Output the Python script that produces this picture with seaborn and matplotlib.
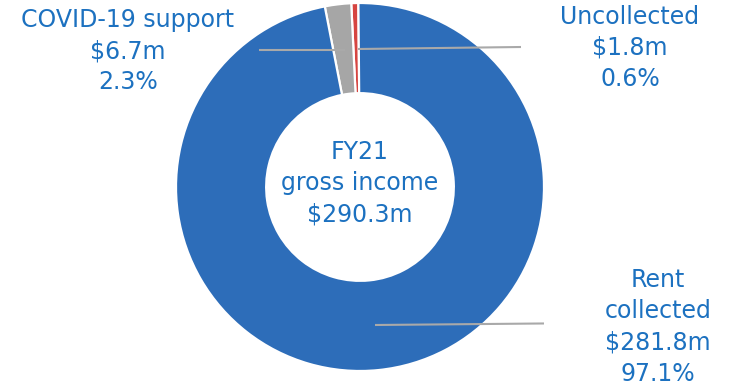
import matplotlib
matplotlib.use("Agg")
import matplotlib.pyplot as plt
import seaborn as sns

categories = ["Uncollected", "COVID-19 support", "Rent collected"]
values = [1.8, 6.7, 281.8]
percents = ["0.6%", "2.3%", "97.1%"]
value_labels = ["$1.8m", "$6.7m", "$281.8m"]
total_label = "$290.3m"
colors = ["#D64541", "#A6A6A6", "#2D6DB9"]

sns.set_theme(style="white")
plt.rcParams["font.family"] = ["DejaVu Sans"]

W, H = 732, 390
fig = plt.figure(figsize=(W / 100, H / 100), dpi=100)
cx, cy, R = 360, 187, 184
ax = fig.add_axes([(cx - R) / W, (H - cy - R) / H, 2 * R / W, 2 * R / H])
ax.pie(values, colors=colors, startangle=90.5, counterclock=True, radius=1,
       wedgeprops=dict(width=0.49, edgecolor="white", linewidth=1.6))
ax.set_xlim(-1, 1)
ax.set_ylim(-1, 1)
ax.set_aspect("equal")
ax.axis("off")

txt_color = "#1C71C0"
fs = 17.0

def px2data(px, py):
    return (px - cx) / R, (cy - py) / R

def line(p0, p1):
    x0, y0 = px2data(*p0)
    x1, y1 = px2data(*p1)
    ax.plot([x0, x1], [y0, y1], color="#A9A9A9", lw=1.5, solid_capstyle="butt", zorder=5)

line((259, 50), (345, 50))
line((358, 49), (521, 47))
line((375, 325), (596, 323))

def label(px, py, s):
    fig.text(px / W, 1 - py / H, s, ha="center", va="center", color=txt_color,
             fontsize=fs, linespacing=1.38)

label(128, 51, f"{categories[1]}\n{value_labels[1]}\n{percents[1]}")
label(630, 48, f"{categories[0]}\n{value_labels[0]}\n{percents[0]}")
label(658, 327, f"Rent\ncollected\n{value_labels[2]}\n{percents[2]}")
label(360, 183, f"FY21\ngross income\n{total_label}")

fig.savefig("out.png", dpi=100)
